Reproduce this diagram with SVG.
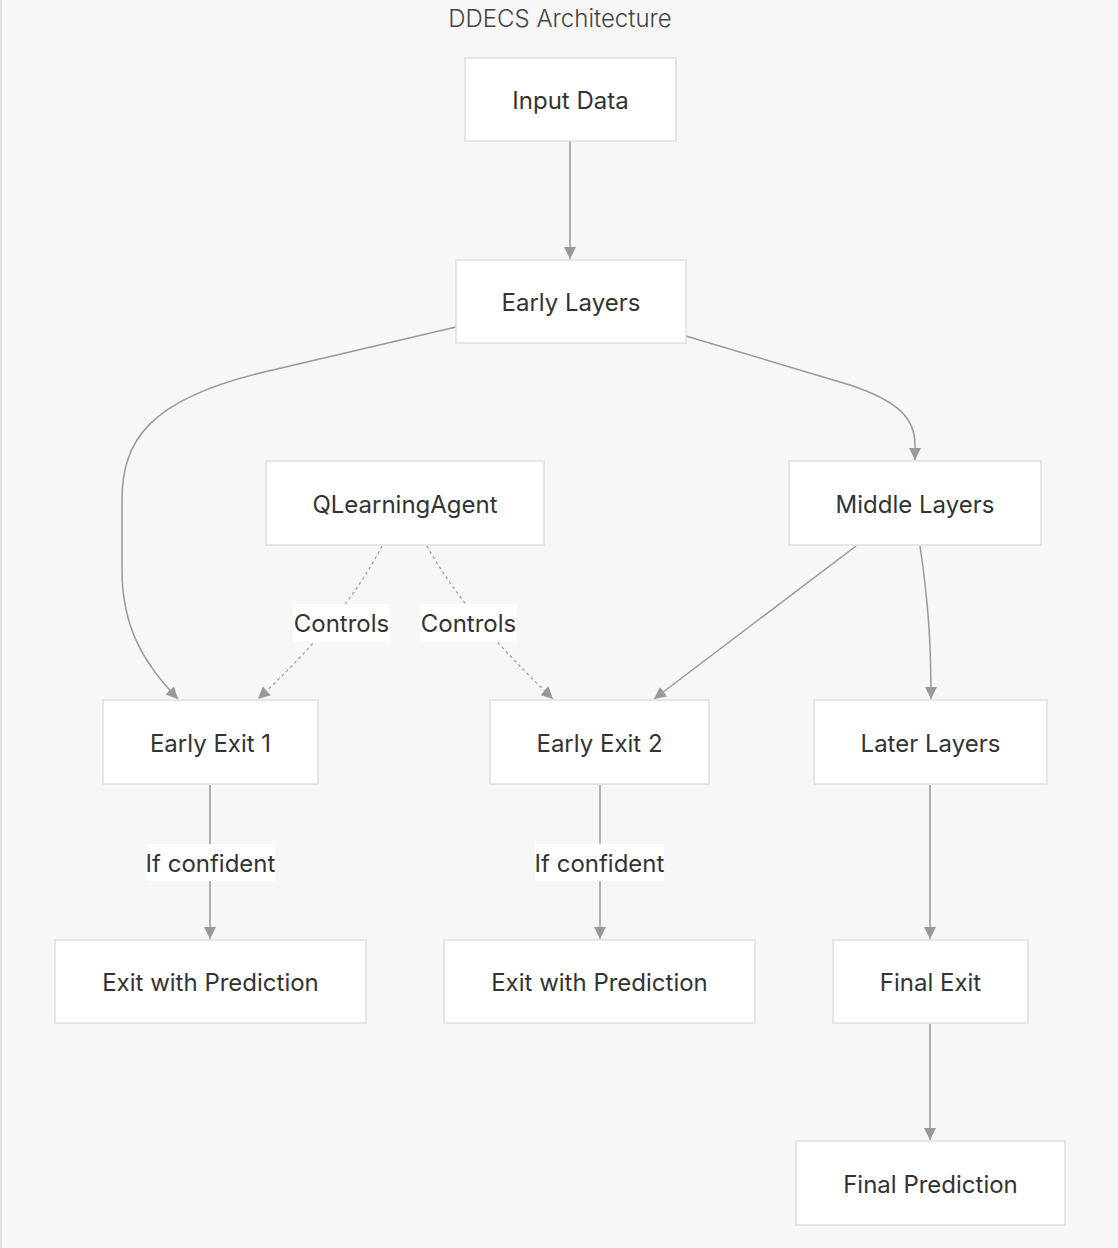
<svg xmlns="http://www.w3.org/2000/svg" width="1118" height="1248" viewBox="0 0 1118 1248">
<style>
.node rect{fill:#ffffff;stroke:#dedede;stroke-width:1.5}
.node text{font-family:Inter,"Noto Sans","Liberation Sans",sans-serif;font-size:24px;fill:#333333;text-anchor:middle;dominant-baseline:central}
.title{font-family:Inter,"Noto Sans","Liberation Sans",sans-serif;font-size:24px;fill:#444444;text-anchor:middle;font-weight:300}
.edge{fill:none;stroke:#999999;stroke-width:1.5}
.dash{fill:none;stroke:#999999;stroke-width:1.2;stroke-dasharray:3 3}
.lbl rect{fill:#ffffff}
.lbl text{font-family:Inter,"Noto Sans","Liberation Sans",sans-serif;font-size:24px;fill:#333333;text-anchor:middle;dominant-baseline:central}
</style>
<defs>
<marker id="arr" viewBox="0 0 10 10" refX="10" refY="5" markerUnits="userSpaceOnUse" markerWidth="12" markerHeight="12" orient="auto">
<path d="M0,0 L10,5 L0,10 z" fill="#999999"/>
</marker>
</defs>
<rect x="0" y="0" width="1118" height="1248" fill="#f7f7f7"/>
<rect x="0" y="0" width="2" height="1248" fill="#e2e2e2"/>
<text class="title" x="560" y="18" dominant-baseline="central">DDECS Architecture</text>

<g id="connectors">
<path class="edge" d="M570,141 L570,259" marker-end="url(#arr)"/>
<path class="edge" d="M456,327 L260,373 C150,400 122,440 122,500 L122,570 C122,625 142,662 178,699" marker-end="url(#arr)"/>
<path class="edge" d="M686,336 L850,385 C898,401 915,418 915,445 L915,460" marker-end="url(#arr)"/>
<path class="dash" d="M382,546 Q345,618 258,699" marker-end="url(#arr)"/>
<path class="dash" d="M427,546 Q465,615 553,699" marker-end="url(#arr)"/>
<path class="edge" d="M856,546 L654,699" marker-end="url(#arr)"/>
<path class="edge" d="M920,546 C928,600 931,640 931,699" marker-end="url(#arr)"/>
<path class="edge" d="M210,785 L210,939" marker-end="url(#arr)"/>
<path class="edge" d="M600,785 L600,939" marker-end="url(#arr)"/>
<path class="edge" d="M930,785 L930,939" marker-end="url(#arr)"/>
<path class="edge" d="M930,1024 L930,1140" marker-end="url(#arr)"/>
<g class="lbl"><rect x="293" y="604" width="97" height="38"/><text x="341.5" y="623.5">Controls</text></g>
<g class="lbl"><rect x="420" y="604" width="97" height="38"/><text x="468.5" y="623.5">Controls</text></g>
<g class="lbl"><rect x="146" y="844" width="129" height="37"/><text x="210.5" y="863">If confident</text></g>
<g class="lbl"><rect x="535" y="844" width="129" height="37"/><text x="599.5" y="863">If confident</text></g>
</g>

<g id="input" class="node"><rect x="465" y="58" width="211" height="83"/><text x="570.5" y="100.5">Input Data</text></g>
<g id="early" class="node"><rect x="456" y="260" width="230" height="83"/><text x="571" y="302">Early Layers</text></g>
<g id="qagent" class="node"><rect x="266" y="461" width="278" height="84"/><text x="405" y="504">QLearningAgent</text></g>
<g id="middle" class="node"><rect x="789" y="461" width="252" height="84"/><text x="915" y="504">Middle Layers</text></g>
<g id="exit1" class="node"><rect x="103" y="700" width="215" height="84"/><text x="210.5" y="743">Early Exit 1</text></g>
<g id="exit2" class="node"><rect x="490" y="700" width="219" height="84"/><text x="599.5" y="743">Early Exit 2</text></g>
<g id="later" class="node"><rect x="814" y="700" width="233" height="84"/><text x="930.5" y="743">Later Layers</text></g>
<g id="pred1" class="node"><rect x="55" y="940" width="311" height="83"/><text x="210.5" y="982.5">Exit with Prediction</text></g>
<g id="pred2" class="node"><rect x="444" y="940" width="311" height="83"/><text x="599.5" y="982.5">Exit with Prediction</text></g>
<g id="finalexit" class="node"><rect x="833" y="940" width="195" height="83"/><text x="930.5" y="982.5">Final Exit</text></g>
<g id="finalpred" class="node"><rect x="796" y="1141" width="269" height="84"/><text x="930.5" y="1184">Final Prediction</text></g>
</svg>
